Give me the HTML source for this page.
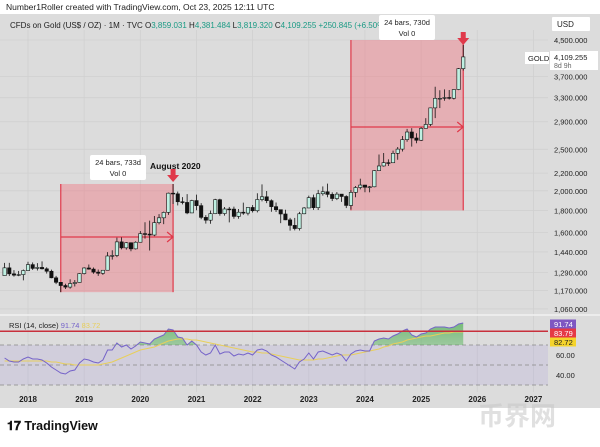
<!DOCTYPE html>
<html><head><meta charset="utf-8">
<style>
html,body{margin:0;padding:0;background:#fff;}
body{width:600px;height:442px;overflow:hidden;font-family:"Liberation Sans",sans-serif;}
svg text{font-family:"Liberation Sans","Noto Sans CJK SC",sans-serif;}
</style></head>
<body>
<svg id="c" width="600" height="442" viewBox="0 0 600 442" xmlns="http://www.w3.org/2000/svg">
<text x="6" y="10" font-size="8.5" fill="#222">Number1Roller created with TradingView.com, Oct 23, 2025 12:11 UTC</text>
<rect x="0" y="14" width="600" height="394" fill="#dcdcdc"/>
<g id="grid"></g>
<line x1="0" y1="315" x2="600" y2="315" stroke="#f2f2f2" stroke-width="1.5"/>
<text x="10" y="28" font-size="8" fill="#222">CFDs on Gold (US$ / OZ) · 1M · TVC  <tspan>O</tspan><tspan fill="#1a9a84">3,859.031</tspan> H<tspan fill="#1a9a84">4,381.484</tspan> L<tspan fill="#1a9a84">3,819.320</tspan> C<tspan fill="#1a9a84">4,109.255 +250.845 (+6.50%)</tspan></text>
<g id="boxes"></g>
<g id="candles"></g>
<g id="rsi"></g>
<g id="annot"></g>
<g id="axes"></g>
<text x="7" y="430" font-size="12.5" font-weight="bold" fill="#111">𝟏𝟕 TradingView</text>
<text x="478" y="425" font-size="26" font-weight="bold" fill="#c8c8c8" opacity="0.55">币界网</text>
</svg>
<script>
const NS='http://www.w3.org/2000/svg';
// monthly data starting Aug 2017
const startMonth=-5; // months relative to Jan 2018
const closes=[1322,1280,1271,1275,1303,
1345,1318,1325,1315,1298,1253,1223,1202,1192,1215,1222,1282,
1321,1313,1292,1284,1305,1409,1413,1520,1472,1513,1464,1517,
1589,1585,1577,1686,1730,1781,1975,1968,1886,1879,1776,1898,
1847,1734,1708,1769,1907,1770,1814,1813,1743,1783,1774,1829,
1797,1909,1937,1897,1837,1807,1766,1711,1661,1633,1768,1824,
1928,1827,1969,1990,1962,1919,1965,1940,1849,1983,2036,2063,
2039,2044,2230,2286,2327,2326,2447,2503,2634,2744,2657,2625,
2798,2858,3124,3289,3289,3303,3290,3448,3858,4109];
const highs=[1358,1358,1306,1300,1310,
1366,1361,1356,1369,1326,1309,1266,1217,1214,1243,1238,1285,
1326,1346,1324,1310,1306,1439,1453,1555,1557,1518,1516,1525,
1611,1689,1704,1747,1765,1789,1981,2075,1992,1933,1965,1906,
1959,1872,1755,1798,1916,1917,1833,1834,1837,1814,1877,1831,
1853,1974,2070,1998,1910,1879,1784,1807,1729,1729,1786,1833,
1949,1960,2010,2048,2079,1984,1987,1949,1953,2009,2052,2135,
2065,2052,2236,2431,2451,2369,2483,2531,2685,2790,2801,2726,
2817,2956,3128,3500,3435,3452,3439,3453,3871,4381];
const lows=[1267,1265,1261,1264,1236,
1302,1307,1303,1310,1282,1250,1211,1160,1180,1182,1196,1221,
1276,1309,1281,1266,1273,1383,1382,1400,1460,1458,1445,1459,
1517,1547,1451,1567,1670,1672,1757,1863,1849,1860,1764,1821,
1802,1717,1677,1676,1765,1750,1750,1688,1721,1721,1758,1753,
1780,1781,1890,1872,1787,1785,1681,1709,1615,1617,1616,1764,
1823,1805,1804,1949,1932,1893,1903,1885,1823,1809,1932,2016,
1985,1984,2039,2228,2278,2286,2353,2364,2471,2604,2537,2583,
2614,2833,2832,2957,3121,3247,3268,3268,3436,3819];
const firstOpen=1268;
const rsiVals=[57,54,53,53,56,
58,56,56,55,52,48,45,42,41,44,45,52,
56,55,53,52,55,65,65,72,68,70,66,69,
73,72,71,76,78,80,86,85,78,77,70,74,
70,63,60,62,70,61,63,63,59,61,60,62,
60,65,66,64,60,58,55,52,49,46,53,56,
62,56,63,64,62,60,62,60,54,61,64,65,
64,64,74,76,77,76,79,81,84,86,80,78,
81,82,86,88,88,88,87,88,91,92];
const rsiMA=[54,54,54,54,54,
54,54,54,54,54,53,53,52,51,51,50,50,
50,50,50,50,51,52,53,55,57,59,61,63,
65,66,67,68,70,72,74,75,76,76,76,75,
75,74,73,72,71,70,69,68,67,66,65,64,
63,63,62,62,61,60,59,58,57,56,55,55,
55,55,56,56,57,58,59,60,60,60,61,62,
63,64,65,66,68,69,71,72,73,75,76,77,
78,79,79,80,81,82,82,83,83,83];
const priceTicks=[4500,3700,3300,2900,2500,2200,2000,1800,1600,1440,1290,1170,1060];
const yearTicks=[2018,2019,2020,2021,2022,2023,2024,2025,2026,2027];
const rsiTicks=[60,40];
const rsiDashes=[70,50,30];

const X=m=>28+m*4.68;           // m = months from Jan 2018
const xi=i=>X(startMonth+i);
const Y=p=>40+(Math.log(4500)-Math.log(p))*186;
const R=v=>355-(v-60);
const PR=548;

function el(tag,attrs,parent){const e=document.createElementNS(NS,tag);for(const k in attrs)e.setAttribute(k,attrs[k]);(parent||document.getElementById('c')).appendChild(e);return e;}
const grid=document.getElementById('grid'),axes=document.getElementById('axes');

yearTicks.forEach(y=>{
  const x=X((y-2018)*12);
  const l=el('line',{x1:x,y1:30,x2:x,y2:392,stroke:'#d0d0d0','stroke-width':0.8},grid);
  
  
  const t=el('text',{x:x,y:402,'font-size':8,'font-weight':'bold','text-anchor':'middle',fill:'#222'},axes);
  t.textContent=y;
  
  
});
priceTicks.forEach(p=>{
  const y=Y(p);
  const l=el('line',{x1:0,y1:y,x2:PR,y2:y,stroke:'#d0d0d0','stroke-width':0.8},grid);
  
  
  const t=el('text',{x:554,y:y+3,'font-size':7.5,fill:'#222'},axes);
  t.textContent=p.toLocaleString('en-US')+'.000';
  
  
});
// axis boxes
let b=el('rect',{x:552,y:17,width:38,height:14,fill:'#fff',rx:1},axes);

let t=el('text',{x:557,y:27,'font-size':8,fill:'#222'},axes);t.textContent='USD';

b=el('rect',{x:525,y:52,width:24,height:12,fill:'#fff'},axes);

t=el('text',{x:528,y:61,'font-size':7.5,fill:'#222'},axes);t.textContent='GOLD';

b=el('rect',{x:550,y:51,width:48,height:19,fill:'#fff'},axes);

t=el('text',{x:554,y:60,'font-size':7.5,fill:'#222'},axes);t.textContent='4,109.255';

t=el('text',{x:554,y:68,'font-size':7,fill:'#666'},axes);t.textContent='8d 9h';


// boxes
const boxes=document.getElementById('boxes');
function measureBox(i0,i1,pHigh,pLow,yArrow,name){
  const x0=xi(i0),x1=xi(i1),y0=Y(pHigh),y1=Y(pLow);
  const r=el('rect',{x:x0,y:y0,width:x1-x0,height:y1-y0,fill:'rgba(240,120,130,0.45)'},boxes);
  
  [x0,x1].forEach(x=>{const l=el('line',{x1:x,y1:y0,x2:x,y2:y1,stroke:'#e0394a','stroke-width':1.2},boxes);
    });
  const a=el('path',{d:`M${x0} ${yArrow}H${x1}M${x1-6} ${yArrow-5}L${x1} ${yArrow}L${x1-6} ${yArrow+5}`,stroke:'#e0394a','stroke-width':1.2,fill:'none'},boxes);
  
}
measureBox(12,36,2075,1160,237,'range-box-2018-2020');
measureBox(74,98,4500,1800,127,'range-box-2023-2025');

// candles
const cg=document.getElementById('candles');
closes.forEach((c,i)=>{
  const o=i===0?firstOpen:closes[i-1];
  const x=xi(i),up=c>=o;
  const w=el('line',{x1:x,y1:Y(highs[i]),x2:x,y2:Y(lows[i]),stroke:'#111','stroke-width':0.8},cg);
  
  const yt=Y(Math.max(o,c)),yb=Y(Math.min(o,c));
  const r=el('rect',{x:x-1.7,y:yt,width:3.4,height:Math.max(0.8,yb-yt),fill:up?'#bff0e2':'#111',stroke:'#111','stroke-width':0.6},cg);
  
});

// RSI pane
const rg=document.getElementById('rsi');
let band=el('rect',{x:0,y:R(70),width:PR,height:R(30)-R(70),fill:'rgba(150,130,220,0.15)'},rg);

rsiDashes.forEach(v=>{const l=el('line',{x1:0,y1:R(v),x2:PR,y2:R(v),stroke:'#888','stroke-dasharray':'4 3','stroke-width':0.8},rg);
  });
const defs=el('defs',{},rg);
const cp=el('clipPath',{id:'above70'},defs);
el('rect',{x:0,y:0,width:PR,height:R(70)},cp);
const grd=el('linearGradient',{id:'gg',x1:0,y1:0,x2:0,y2:1},defs);
el('stop',{offset:0,'stop-color':'#4caf50','stop-opacity':0.7},grd);
el('stop',{offset:1,'stop-color':'#4caf50','stop-opacity':0.1},grd);
let pts=rsiVals.map((v,i)=>`${xi(i).toFixed(1)},${R(v).toFixed(1)}`);
const fill=el('path',{d:`M${xi(0)},${R(70)}L${pts.join('L')}L${xi(rsiVals.length-1)},${R(70)}Z`,fill:'url(#gg)','clip-path':'url(#above70)'},rg);

const ma=el('polyline',{points:rsiMA.map((v,i)=>`${xi(i).toFixed(1)},${R(v).toFixed(1)}`).join(' '),fill:'none',stroke:'#e8cf5a','stroke-width':1},rg);

const rl=el('polyline',{points:pts.join(' '),fill:'none',stroke:'#7563c9','stroke-width':1},rg);

const red=el('line',{x1:0,y1:R(83.79),x2:PR,y2:R(83.79),stroke:'#c8303c','stroke-width':1.5},rg);

rsiTicks.forEach(v=>{const tt=el('text',{x:556,y:R(v)+3,'font-size':7.5,fill:'#222'},rg);tt.textContent=v.toFixed(2);
  });
[['91.74','#7e57c2','#fff',324],['83.79','#e53945','#fff',333],['82.72','#f5d42b','#222',342]].forEach(([s,bg,fg,y])=>{
  const r=el('rect',{x:550,y:y-4.5,width:26,height:9,fill:bg},rg);
  
  const tx=el('text',{x:554,y:y+3,'font-size':7.5,fill:fg},rg);tx.textContent=s;
  
});
let lbl=el('text',{x:9,y:328,'font-size':7.5,fill:'#222'},rg);
lbl.innerHTML='RSI (14, close) <tspan fill="#7563c9">91.74</tspan> <tspan fill="#e8cf5a">83.72</tspan>';


// annotations
const an=document.getElementById('annot');
function tip(x,y,l1,l2,name){
  const r=el('rect',{x:x,y:y,width:56,height:25,fill:'#fff',rx:2},an);
  
  const a=el('text',{x:x+28,y:y+10,'font-size':7.5,'text-anchor':'middle',fill:'#222'},an);a.textContent=l1;
  
  const b2=el('text',{x:x+28,y:y+21,'font-size':7.5,'text-anchor':'middle',fill:'#222'},an);b2.textContent=l2;
  
}
tip(90,155,'24 bars, 733d','Vol 0','measure-tooltip-1');
tip(379,15,'24 bars, 730d','Vol 0','measure-tooltip-2');
function downArrow(x,yTop,name){
  const p=el('path',{d:`M${x-2.5} ${yTop}h5v6h3.5l-6 7l-6-7h3.5z`,fill:'#e0394a'},an);
  
}
downArrow(xi(36),169,'arrow-august-2020');
downArrow(xi(98),32,'arrow-october-2025');
let au=el('text',{x:150,y:169,'font-size':8.5,'font-weight':'bold',fill:'#111'},an);au.textContent='August 2020';

</script>
</body></html>
